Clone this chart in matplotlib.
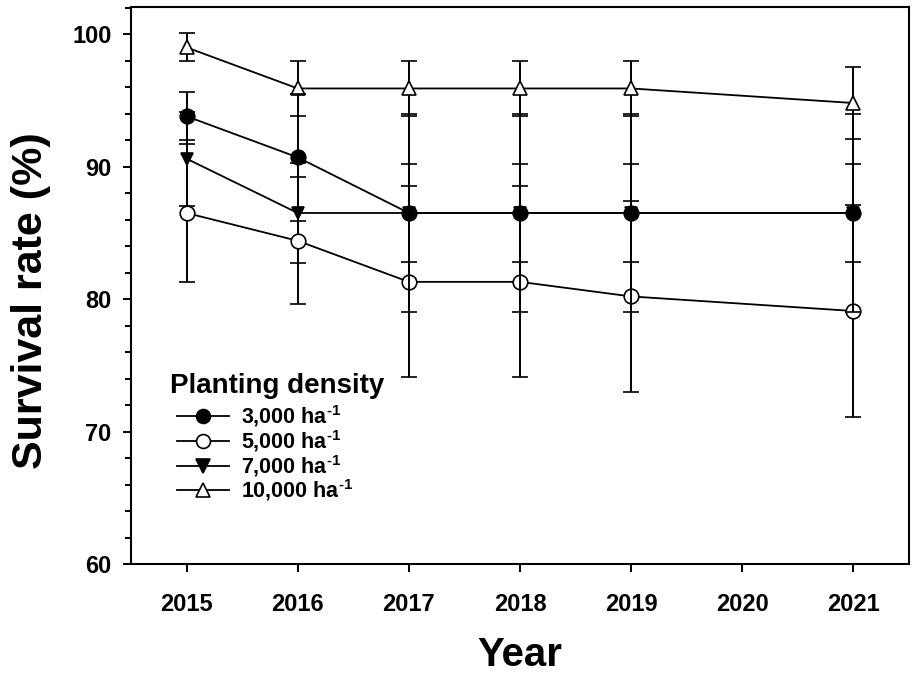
import numpy as np
import matplotlib
matplotlib.use("Agg")
import matplotlib.pyplot as plt
from matplotlib.ticker import MultipleLocator

# ── Data ─────────────────────────────────────────────────────────────────────
years = [2015, 2016, 2017, 2018, 2019, 2021]

d3000 = [93.8, 90.7, 86.5, 86.5, 86.5, 86.5]
e3000 = [1.8, 4.8, 7.5, 7.5, 7.5, 7.5]

d5000 = [86.5, 84.4, 81.3, 81.3, 80.2, 79.1]
e5000 = [5.2, 4.8, 7.2, 7.2, 7.2, 8.0]

d7000 = [90.6, 86.5, 86.5, 86.5, 86.5, 86.5]
e7000 = [3.55, 3.75, 3.7, 3.7, 3.7, 3.7]

d10000 = [99.0, 95.9, 95.9, 95.9, 95.9, 94.8]
e10000 = [1.05, 2.05, 2.05, 2.05, 2.05, 2.7]

labels = [r"3,000 ha$^{\text{-1}}$", r"5,000 ha$^{\text{-1}}$",
          r"7,000 ha$^{\text{-1}}$", r"10,000 ha$^{\text{-1}}$"]
xticks = [2015, 2016, 2017, 2018, 2019, 2020, 2021]

# ── Style ────────────────────────────────────────────────────────────────────
plt.rcParams["font.family"] = ["Liberation Sans", "DejaVu Sans"]
plt.rcParams["font.weight"] = "bold"
plt.rcParams["mathtext.fontset"] = "custom"
plt.rcParams["mathtext.rm"] = "Liberation Sans:bold"
plt.rcParams["mathtext.default"] = "rm"

fig = plt.figure(figsize=(9.17, 6.78), dpi=100)
ax = fig.add_axes([0.1428, 0.1681, 0.8485, 0.8216])

# values, errors, marker, face colour, marker size, zorder
series = [
    (d3000, e3000, "o", "black", 10.5, 4),
    (d5000, e5000, "o", "white", 10.5, 3),
    (d7000, e7000, "v", "black", 9, 2),
    (d10000, e10000, "^", "white", 9.5, 3),
]

handles = []
for (vals, errs, mk, fc, ms, z), lab in zip(series, labels):
    h = ax.errorbar(years, vals, yerr=errs, fmt="-", marker=mk, color="black",
                    mfc=fc, mec="black", ms=ms, mew=1.2, lw=1.3,
                    elinewidth=1.4, capsize=6, capthick=1.4, zorder=z,
                    label=lab)
    handles.append(h)

# ── Axes ─────────────────────────────────────────────────────────────────────
ax.set_xlim(2014.5, 2021.5)
ax.set_ylim(60, 102.05)
ax.set_xticks(xticks)
ax.yaxis.set_major_locator(MultipleLocator(10))
ax.yaxis.set_minor_locator(MultipleLocator(2))

for s in ax.spines.values():
    s.set_linewidth(1.5)

ax.tick_params(axis="both", which="major", direction="out", length=6, width=1.4,
               labelsize=17, pad=8)
ax.tick_params(axis="x", which="major", pad=15)
ax.tick_params(axis="y", which="minor", direction="out", length=4, width=1.4)

ax.set_xlabel("Year", fontsize=29, fontweight="bold", labelpad=14)
ax.set_ylabel("Survival rate (%)", fontsize=31, fontweight="bold")
ax.yaxis.set_label_coords(-0.103, 0.472)

# ── Legend (title drawn separately so entries can sit a bit indented) ───────
ax.text(0.050, 0.307, "Planting density", transform=ax.transAxes,
        fontsize=20, fontweight="bold", ha="left", va="baseline")

leg_handles = [h[0] for h in handles]
leg = ax.legend(leg_handles, labels, loc="upper left",
                bbox_to_anchor=(0.059, 0.289), frameon=False, fontsize=15.5,
                handlelength=2.4, handletextpad=0.6, handleheight=0.7,
                labelspacing=-0.05, borderpad=0, borderaxespad=0)
for lh in leg.legend_handles:
    lh.set_markersize(10)

fig.savefig("out.png", dpi=100)
